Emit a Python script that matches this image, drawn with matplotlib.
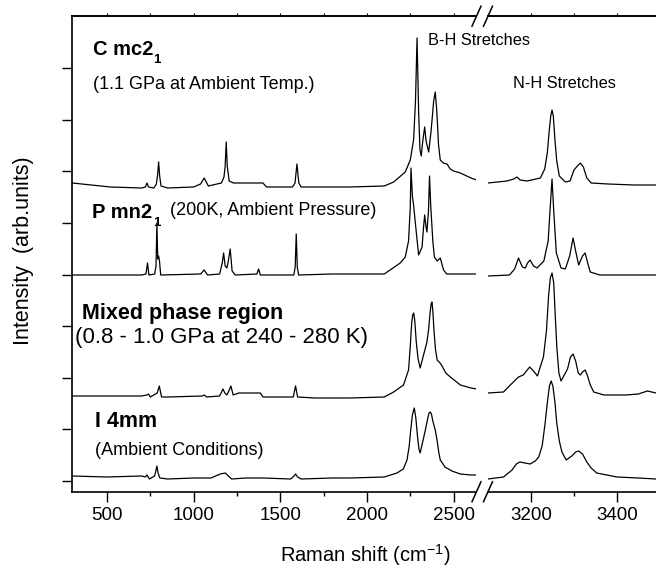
import matplotlib
matplotlib.use('Agg')
import matplotlib.pyplot as plt
from matplotlib.lines import Line2D

plt.rcParams['font.family'] = 'Liberation Sans'

# --- spectra, low wavenumber part (300 - 2630 cm-1) and N-H part (3100 - 3490 cm-1)
# intensities in arbitrary units (stacked offsets already included)
cmc_lo_x = [300, 520, 700, 722, 731, 740, 770, 785, 792, 798, 804, 812, 850, 1000, 1040, 1061, 1085, 1160, 1175, 1182,
            1188, 1194, 1205, 1230, 1400, 1420, 1570, 1585, 1596, 1607, 1620, 1700, 1900, 2100, 2154, 2221, 2250, 2269, 2280, 2289,
            2298, 2306, 2313, 2322, 2333, 2341, 2356, 2370, 2385, 2394, 2403, 2413, 2423, 2440, 2462, 2480, 2500, 2539, 2600, 2632]
cmc_lo_y = [298, 294, 293, 294, 298, 294, 293, 297, 306, 319, 305, 295, 293, 294, 297, 303, 295, 298, 304, 315,
            339, 315, 300, 298, 298, 294, 294, 298, 317, 298, 294, 294, 294, 295, 299, 309, 321, 341, 380, 443,
            370, 331, 325, 340, 354, 340, 329, 350, 380, 389, 370, 336, 321, 318, 317, 312, 310, 308, 303, 301]
cmc_hi_x = [3100, 3144, 3160, 3167, 3175, 3191, 3222, 3232, 3238, 3242, 3246, 3249, 3252, 3256, 3260, 3266, 3280, 3291, 3300, 3308,
            3315, 3322, 3330, 3340, 3380, 3440, 3491]
cmc_hi_y = [298, 300, 302, 304, 301, 300, 303, 312, 328, 348, 365, 371, 365, 340, 320, 305, 299, 300, 311, 315,
            318, 314, 303, 298, 297, 296, 296]

pmn_lo_x = [300, 700, 725, 734, 742, 775, 783, 788, 793, 798, 803, 810, 1040, 1061, 1080, 1150, 1165, 1173, 1182, 1192,
            1200, 1211, 1222, 1240, 1365, 1375, 1385, 1578, 1586, 1592, 1598, 1606, 1800, 2100, 2192, 2221, 2240, 2250, 2254, 2262,
            2269, 2285, 2298, 2318, 2327, 2333, 2340, 2346, 2355, 2361, 2368, 2380, 2389, 2405, 2423, 2442, 2460, 2632]
pmn_lo_y = [206, 206, 207, 218, 206, 207, 215, 258, 222, 225, 220, 206, 207, 211, 206, 207, 218, 228, 215, 213,
            220, 232, 210, 206, 207, 212, 206, 206, 214, 247, 214, 206, 207, 207, 218, 224, 240, 274, 313, 285,
            276, 248, 226, 234, 255, 266, 255, 249, 270, 305, 275, 240, 224, 220, 223, 211, 207, 207]
pmn_hi_x = [3100, 3150, 3162, 3171, 3180, 3187, 3192, 3198, 3206, 3214, 3230, 3240, 3245, 3249, 3253, 3259, 3270, 3280, 3290, 3298,
            3304, 3311, 3320, 3326, 3332, 3338, 3360, 3491]
pmn_hi_y = [205, 206, 212, 223, 214, 213, 218, 221, 215, 213, 220, 240, 275, 302, 270, 228, 213, 212, 225, 243,
            230, 216, 225, 228, 218, 209, 206, 206]

mix_lo_x = [300, 700, 730, 740, 750, 790, 802, 815, 850, 1050, 1061, 1075, 1150, 1169, 1180, 1192, 1203, 1215, 1228, 1260,
            1385, 1400, 1575, 1588, 1600, 1700, 1900, 2100, 2154, 2211, 2240, 2250, 2258, 2264, 2270, 2276, 2284, 2295, 2307, 2325,
            2346, 2356, 2364, 2370, 2375, 2380, 2387, 2395, 2405, 2422, 2433, 2455, 2481, 2510, 2539, 2600, 2632]
mix_lo_y = [85, 85, 86, 87, 84, 88, 95, 84, 84, 85, 86, 84, 85, 92, 88, 86, 90, 95, 86, 88,
            88, 84, 84, 95, 84, 83, 83, 84, 89, 96, 111, 135, 158, 166, 168, 160, 140, 122, 113, 125,
            139, 152, 168, 177, 179, 170, 150, 132, 121, 118, 115, 108, 104, 100, 96, 93, 92]
mix_hi_x = [3100, 3136, 3152, 3171, 3182, 3197, 3206, 3215, 3229, 3236, 3241, 3245, 3249, 3253, 3256, 3260, 3265, 3270, 3285, 3292,
            3298, 3304, 3310, 3315, 3320, 3326, 3331, 3338, 3346, 3370, 3420, 3450, 3471, 3491]
mix_hi_y = [88, 89, 96, 104, 106, 114, 110, 105, 124, 150, 185, 203, 208, 198, 170, 135, 108, 100, 112, 124,
            127, 120, 108, 106, 109, 111, 106, 96, 89, 86, 86, 87, 90, 88]

i4_lo_x = [300, 500, 700, 722, 731, 745, 775, 782, 788, 795, 805, 850, 1000, 1100, 1140, 1154, 1183, 1200, 1220, 1300,
           1400, 1560, 1580, 1588, 1600, 1620, 1800, 1900, 2100, 2173, 2210, 2231, 2243, 2252, 2262, 2273, 2282, 2292, 2300, 2307,
           2320, 2337, 2350, 2358, 2365, 2372, 2380, 2394, 2405, 2415, 2423, 2450, 2490, 2539, 2600, 2632]
i4_lo_y = [5, 4, 5, 4, 6, 2, 5, 10, 15, 8, 3, 2, 3, 3, 6, 7, 8, 5, 2, 3,
           3, 2, 5, 7, 4, 2, 3, 3, 4, 8, 12, 21, 34, 50, 66, 73, 63, 44, 32, 28,
           38, 51, 62, 68, 69, 67, 60, 51, 40, 28, 21, 14, 10, 7, 6, 6]
i4_hi_x = [3100, 3136, 3156, 3166, 3174, 3186, 3198, 3210, 3218, 3226, 3233, 3238, 3243, 3247, 3251, 3256, 3260, 3266, 3272, 3282,
           3295, 3304, 3311, 3320, 3330, 3340, 3353, 3400, 3450, 3491]
i4_hi_y = [2, 4, 11, 17, 19, 18, 17, 20, 24, 35, 58, 78, 95, 100, 95, 78, 58, 40, 29, 21,
           25, 29, 30, 27, 19, 13, 8, 4, 3, 2]

W, H = 656, 569
fig = plt.figure(figsize=(W / 100, H / 100), dpi=100)

def fx(px):
    return px / W

def fy(py):
    return 1 - py / H

ax1 = fig.add_axes([fx(72.3), fy(491.7), (476.5 - 72.3) / W, 476 / H])
ax2 = fig.add_axes([fx(488), fy(491.7), (656 - 488) / W, 476 / H])

lw = 0.9
for ax, spectra in [(ax1, [(cmc_lo_x, cmc_lo_y), (pmn_lo_x, pmn_lo_y), (mix_lo_x, mix_lo_y), (i4_lo_x, i4_lo_y)]),
                    (ax2, [(cmc_hi_x, cmc_hi_y), (pmn_hi_x, pmn_hi_y), (mix_hi_x, mix_hi_y), (i4_hi_x, i4_hi_y)])]:
    for xs, ys in spectra:
        ax.plot(xs, ys, color='black', lw=lw)
    ax.set_ylim(-10.7, 465.3)
    for s in ax.spines.values():
        s.set_linewidth(1.2)
    ax.spines['right'].set_visible(False)
    ax.tick_params(axis='x', which='major', direction='out', length=7, width=1, labelsize=13.5, pad=4)
    ax.tick_params(axis='x', which='minor', direction='out', length=3, width=1)

ax1.set_xlim(300, 2632)
ax1.set_xticks([500, 1000, 1500, 2000, 2500])
ax1.set_xticks([750, 1250, 1750, 2250], minor=True)
ax1.set_yticks([k * 51.6 for k in range(9)])
ax1.set_yticklabels([])
ax1.tick_params(axis='y', direction='out', length=7, width=1)

ax2.set_xlim(3100, 3491)
ax2.set_xticks([3200, 3400])
ax2.set_xticks([3300], minor=True)
ax2.spines['left'].set_visible(False)
ax2.set_yticks([])

# small ticks on the top frame
for ax in (ax1, ax2):
    top = ax.secondary_xaxis('top')
    top.set_xticks(ax.get_xticks())
    top.set_xticks(ax.get_xticks(minor=True), minor=True)
    top.tick_params(which='both', direction='out', length=2, width=0.8, labeltop=False)
    top.spines['top'].set_linewidth(1.2)

# axis break marks
for cx in (476.5, 488):
    for cy in (491.7, 16.2):
        fig.add_artist(Line2D([fx(cx - 4.5), fx(cx + 4.5)], [fy(cy + 10), fy(cy - 10)],
                              transform=fig.transFigure, color='black', lw=1.1))

# labels
fig.text(fx(23), fy(251), 'Intensity  (arb.units)', rotation=90, ha='center', va='center', fontsize=15.5)
fig.text(fx(365), fy(562), 'Raman shift (cm$^{\\mathregular{-1}}$)', ha='center', va='baseline', fontsize=14.5)

fig.text(fx(93), fy(55), 'C mc2', fontsize=14.5, fontweight='bold')
fig.text(fx(153), fy(63), '1', fontsize=9.5, fontweight='bold')
fig.text(fx(93), fy(89), '(1.1 GPa at Ambient Temp.)', fontsize=13)
fig.text(fx(92), fy(218), 'P mn2', fontsize=14.5, fontweight='bold')
fig.text(fx(153), fy(226), '1', fontsize=9.5, fontweight='bold')
fig.text(fx(170), fy(215), '(200K, Ambient Pressure)', fontsize=13)
fig.text(fx(82), fy(319), 'Mixed phase region', fontsize=15.5, fontweight='bold')
fig.text(fx(75), fy(343), '(0.8 - 1.0 GPa at 240 - 280 K)', fontsize=16)
fig.text(fx(95), fy(427), 'I 4mm', fontsize=15.5, fontweight='bold')
fig.text(fx(95), fy(455), '(Ambient Conditions)', fontsize=13)
fig.text(fx(428), fy(45), 'B-H Stretches', fontsize=11.8)
fig.text(fx(513), fy(88), 'N-H Stretches', fontsize=11.8)

fig.savefig('out.png', dpi=100)
